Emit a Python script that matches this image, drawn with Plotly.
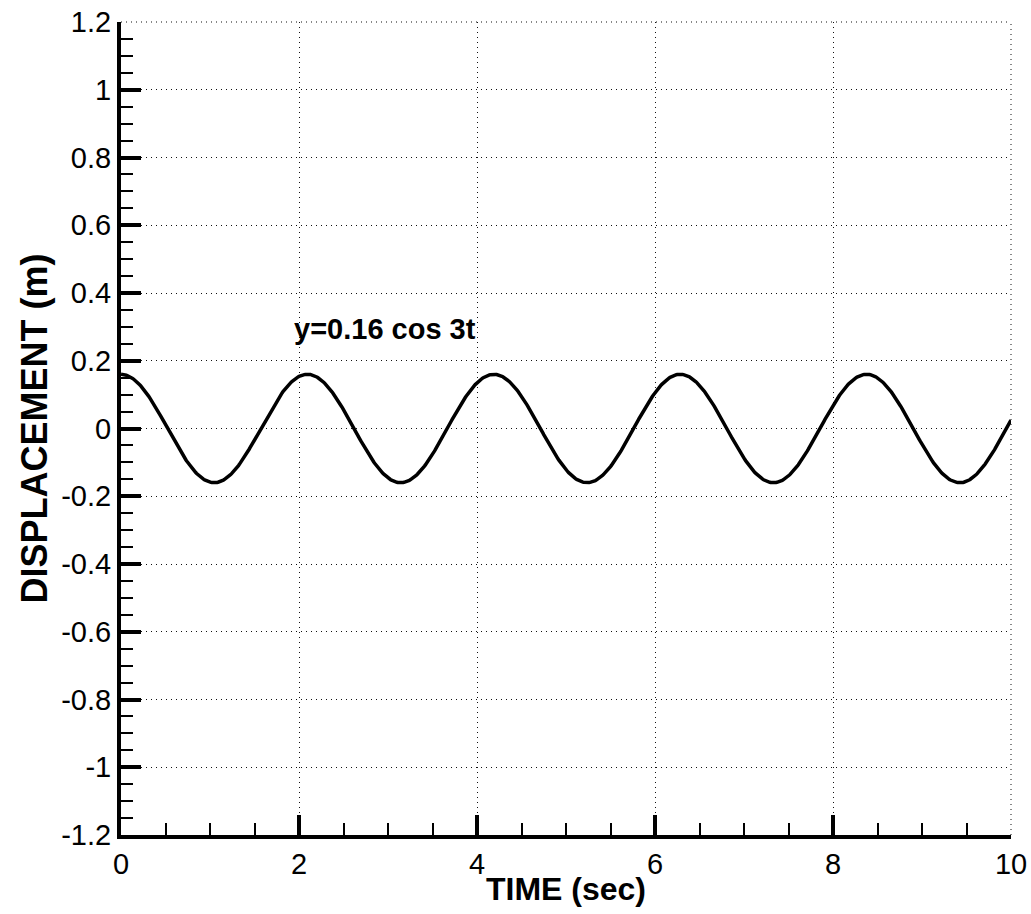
import numpy as np
import plotly.graph_objects as go

# Oscillation stated on the chart: y = 0.16 cos 3t
AMPLITUDE = 0.16          # m
OMEGA = 3.0               # rad/s
T_END = 10.0              # s

x_tick_vals = [0, 2, 4, 6, 8, 10]
x_tick_text = ["0", "2", "4", "6", "8", "10"]
y_tick_vals = [-1.2, -1.0, -0.8, -0.6, -0.4, -0.2, 0.0, 0.2, 0.4, 0.6, 0.8, 1.0, 1.2]
y_tick_text = ["-1.2", "-1", "-0.8", "-0.6", "-0.4", "-0.2", "0",
               "0.2", "0.4", "0.6", "0.8", "1", "1.2"]

label_text = "y=0.16 cos 3t"

FONT = "Liberation Sans, Arial, sans-serif"
GRID_COLOR = "#111111"
GRID_DASH = "1px,4px"

t = np.linspace(0.0, T_END, 1001)
y = AMPLITUDE * np.cos(OMEGA * t)

fig = go.Figure()
fig.add_trace(go.Scatter(
    x=t, y=y, mode="lines",
    line=dict(color="black", width=3.5),
    showlegend=False, hoverinfo="skip",
))

fig.add_annotation(
    x=1.92, y=0.24, xref="x", yref="y",
    text="<b>" + label_text + "</b>", showarrow=False,
    xanchor="left", yanchor="bottom",
    font=dict(family=FONT, size=29, color="black"),
)

# dotted grid along the open top and right edges of the frame
fig.add_shape(type="line", xref="paper", yref="paper", x0=0, x1=1, y0=1, y1=1,
              line=dict(color=GRID_COLOR, width=1, dash=GRID_DASH), layer="below")
fig.add_shape(type="line", xref="paper", yref="paper", x0=1, x1=1, y0=0, y1=1,
              line=dict(color=GRID_COLOR, width=1, dash=GRID_DASH), layer="below")

axis_common = dict(
    showline=True, linecolor="black", linewidth=4,
    ticks="inside", ticklen=20, tickwidth=4, tickcolor="black",
    showgrid=True, gridcolor=GRID_COLOR, gridwidth=1, griddash=GRID_DASH,
    zeroline=False, mirror=False, automargin=False,
    tickfont=dict(family=FONT, size=29, color="black"),
)

fig.update_xaxes(
    **axis_common,
    range=[0, T_END],
    tickmode="array", tickvals=x_tick_vals, ticktext=x_tick_text,
    minor=dict(dtick=0.5, tick0=0, ticks="inside", ticklen=12, tickwidth=2,
               tickcolor="black", showgrid=False),
    title=dict(text="<b>TIME (sec)</b>", standoff=0,
               font=dict(family=FONT, size=32, color="black")),
)
fig.update_yaxes(
    **axis_common,
    range=[-1.2, 1.2],
    tickmode="array", tickvals=y_tick_vals, ticktext=y_tick_text,
    minor=dict(dtick=0.05, tick0=0, ticks="inside", ticklen=12, tickwidth=2,
               tickcolor="black", showgrid=False),
    title=dict(text="<b>DISPLACEMENT (m)</b>", standoff=4,
               font=dict(family=FONT, size=36, color="black")),
)

fig.update_layout(
    width=1031, height=914,
    margin=dict(l=121, r=20, t=22, b=79),
    paper_bgcolor="white", plot_bgcolor="white",
)

fig.write_html("out.html")
